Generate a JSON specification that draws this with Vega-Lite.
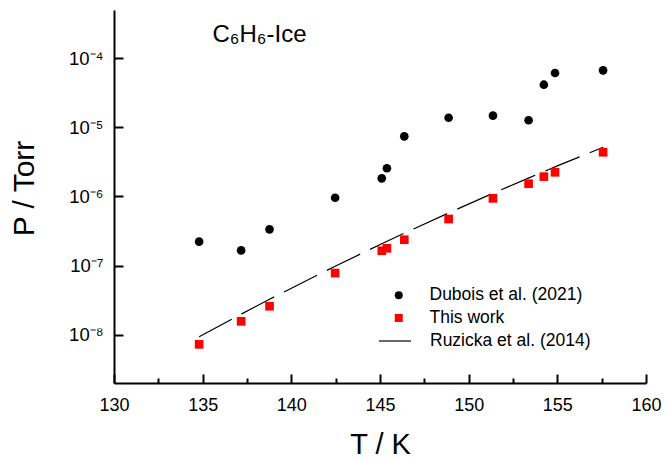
{
  "$schema": "https://vega.github.io/schema/vega-lite/v6.json",
  "width": 532,
  "height": 373,
  "autosize": "none",
  "padding": {"left": 114, "top": 10, "right": 19, "bottom": 75},
  "background": "white",
  "config": {
    "view": {"stroke": null},
    "font": "Liberation Sans",
    "axis": {"grid": false}
  },
  "title": {
    "text": "C₆H₆-Ice",
    "anchor": "start",
    "frame": "group",
    "dx": 98.5,
    "dy": 60,
    "fontSize": 24,
    "fontWeight": "normal",
    "font": "Liberation Sans",
    "baseline": "alphabetic",
    "color": "black"
  },
  "datasets": {
    "pts": [
      {"T": 134.8, "P": 2.22e-7, "series": "Dubois et al. (2021)"},
      {"T": 137.17, "P": 1.66e-7, "series": "Dubois et al. (2021)"},
      {"T": 138.77, "P": 3.35e-7, "series": "Dubois et al. (2021)"},
      {"T": 142.47, "P": 9.6e-7, "series": "Dubois et al. (2021)"},
      {"T": 145.1, "P": 1.83e-6, "series": "Dubois et al. (2021)"},
      {"T": 145.39, "P": 2.56e-6, "series": "Dubois et al. (2021)"},
      {"T": 146.37, "P": 7.43e-6, "series": "Dubois et al. (2021)"},
      {"T": 148.87, "P": 1.38e-5, "series": "Dubois et al. (2021)"},
      {"T": 151.37, "P": 1.48e-5, "series": "Dubois et al. (2021)"},
      {"T": 153.38, "P": 1.27e-5, "series": "Dubois et al. (2021)"},
      {"T": 154.24, "P": 4.15e-5, "series": "Dubois et al. (2021)"},
      {"T": 154.87, "P": 6.13e-5, "series": "Dubois et al. (2021)"},
      {"T": 157.58, "P": 6.7e-5, "series": "Dubois et al. (2021)"},
      {"T": 134.8, "P": 7.26e-9, "series": "This work"},
      {"T": 137.17, "P": 1.56e-8, "series": "This work"},
      {"T": 138.77, "P": 2.58e-8, "series": "This work"},
      {"T": 142.47, "P": 7.8e-8, "series": "This work"},
      {"T": 145.1, "P": 1.64e-7, "series": "This work"},
      {"T": 145.39, "P": 1.78e-7, "series": "This work"},
      {"T": 146.37, "P": 2.37e-7, "series": "This work"},
      {"T": 148.87, "P": 4.72e-7, "series": "This work"},
      {"T": 151.37, "P": 9.4e-7, "series": "This work"},
      {"T": 153.38, "P": 1.53e-6, "series": "This work"},
      {"T": 154.24, "P": 1.94e-6, "series": "This work"},
      {"T": 154.87, "P": 2.24e-6, "series": "This work"},
      {"T": 157.58, "P": 4.37e-6, "series": "This work"}
    ],
    "ruz": [
      {"T": 134.8, "P": 9.35e-9, "series": "Ruzicka et al. (2014)"},
      {"T": 137.2, "P": 2.0e-8, "series": "Ruzicka et al. (2014)"},
      {"T": 138.8, "P": 3.29e-8, "series": "Ruzicka et al. (2014)"},
      {"T": 142.5, "P": 9.89e-8, "series": "Ruzicka et al. (2014)"},
      {"T": 145.1, "P": 2.07e-7, "series": "Ruzicka et al. (2014)"},
      {"T": 146.4, "P": 2.97e-7, "series": "Ruzicka et al. (2014)"},
      {"T": 148.9, "P": 5.83e-7, "series": "Ruzicka et al. (2014)"},
      {"T": 151.4, "P": 1.12e-6, "series": "Ruzicka et al. (2014)"},
      {"T": 153.4, "P": 1.86e-6, "series": "Ruzicka et al. (2014)"},
      {"T": 155.0, "P": 2.77e-6, "series": "Ruzicka et al. (2014)"},
      {"T": 157.58, "P": 5.15e-6, "series": "Ruzicka et al. (2014)"}
    ]
  },
  "resolve": {"axis": {"x": "independent"}},
  "layer": [
    {
      "data": {"name": "ruz"},
      "mark": {"type": "line", "color": "black", "strokeWidth": 1.2},
      "encoding": {
        "x": {
          "field": "T", "type": "quantitative",
          "scale": {"domain": [130, 160], "nice": false, "zero": false},
          "axis": {
            "orient": "bottom",
            "title": "T / K",
            "values": [130, 135, 140, 145, 150, 155, 160],
            "tickSize": -9, "tickWidth": 2, "tickColor": "black",
            "domainWidth": 2, "domainColor": "black",
            "labelFontSize": 18, "labelPadding": 22, "labelColor": "black",
            "labelFont": "Liberation Sans", "labelFlush": false,
            "titleFontSize": 29, "titleFontWeight": "normal", "titleColor": "black",
            "titleFont": "Liberation Sans",
            "titleY": 70, "titleBaseline": "alphabetic", "grid": false
          }
        },
        "y": {
          "field": "P", "type": "quantitative",
          "scale": {"type": "log", "domain": [2e-9, 5e-4], "nice": false},
          "axis": {
            "title": "P / Torr",
            "values": [1e-8, 1e-7, 1e-6, 1e-5, 1e-4],
            "labelExpr": "'10⁻' + ['⁰','¹','²','³','⁴','⁵','⁶','⁷','⁸','⁹'][-round(log(datum.value)/LN10)]",
            "tickSize": -9, "tickWidth": 2, "tickColor": "black",
            "domainWidth": 2, "domainColor": "black",
            "labelFontSize": 18.5, "labelPadding": 20, "labelColor": "black",
            "labelFont": "Liberation Sans",
            "titleFontSize": 30, "titleFontWeight": "normal", "titleColor": "black",
            "titleFont": "Liberation Sans",
            "titleAngle": -90, "titleX": -81, "titleY": 178,
            "titleAlign": "center", "titleBaseline": "alphabetic", "grid": false
          }
        },
        "strokeDash": {
          "field": "series", "type": "nominal",
          "scale": {"range": [[37, 11]]},
          "legend": {
            "orient": "none", "legendX": 264, "legendY": 314,
            "title": null, "padding": 0, "labelLimit": 400,
            "labelFontSize": 17.5, "labelFont": "Liberation Sans", "labelColor": "black",
            "symbolType": "stroke", "symbolSize": 1024, "symbolStrokeWidth": 1.2,
            "symbolStrokeColor": "black", "labelOffset": 18
          }
        }
      }
    },
    {
      "data": {"name": "pts"},
      "mark": {"type": "point", "filled": true, "opacity": 1, "size": 75},
      "encoding": {
        "x": {
          "field": "T", "type": "quantitative",
          "scale": {"domain": [130, 160], "nice": false, "zero": false},
          "axis": {
            "orient": "bottom",
            "title": null,
            "values": [132.5, 137.5, 142.5, 147.5, 152.5, 157.5],
            "labels": false, "domain": false,
            "tickSize": -5, "tickWidth": 2, "tickColor": "black", "grid": false
          }
        },
        "y": {"field": "P", "type": "quantitative"},
        "color": {
          "field": "series", "type": "nominal",
          "scale": {"domain": ["Dubois et al. (2021)", "This work"], "range": ["#000000", "#ff0000"]},
          "legend": {
            "orient": "none", "legendX": 276, "legendY": 276.5,
            "title": null, "padding": 0, "rowPadding": 3.7, "labelLimit": 400,
            "labelFontSize": 17.5, "labelFont": "Liberation Sans", "labelColor": "black",
            "symbolSize": 64, "symbolStrokeWidth": 0, "labelOffset": 22
          }
        },
        "shape": {
          "field": "series", "type": "nominal",
          "scale": {"domain": ["Dubois et al. (2021)", "This work"], "range": ["circle", "square"]},
          "legend": {
            "orient": "none", "legendX": 276, "legendY": 276.5,
            "title": null, "padding": 0, "rowPadding": 3.7, "labelLimit": 400,
            "labelFontSize": 17.5, "labelFont": "Liberation Sans", "labelColor": "black",
            "symbolSize": 64, "symbolStrokeWidth": 0, "labelOffset": 22
          }
        }
      }
    }
  ]
}
